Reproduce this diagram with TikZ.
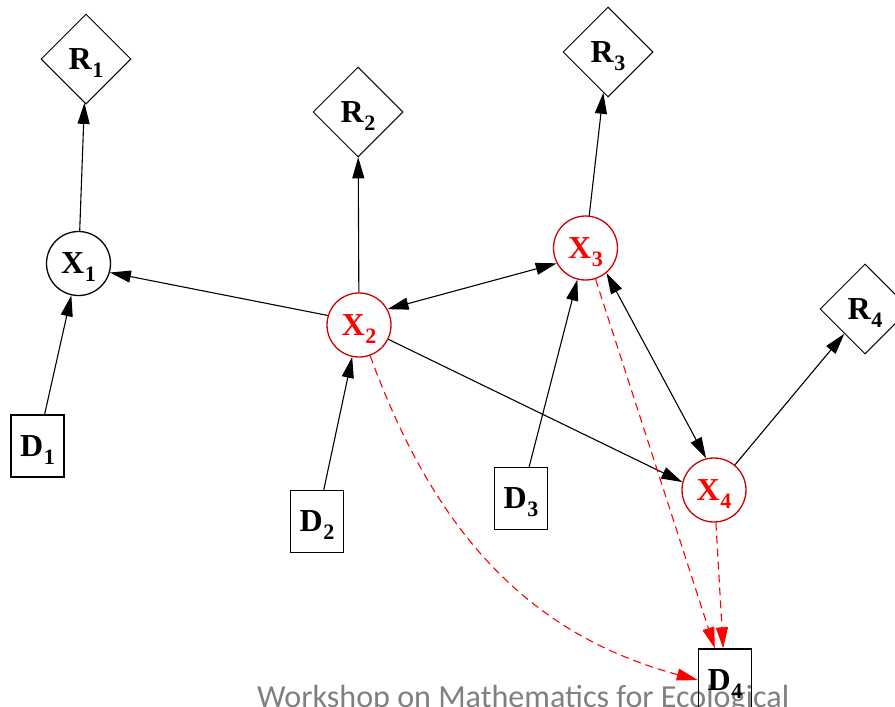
\documentclass[tikz,border=0pt]{standalone}
\usepackage{fontspec}
\setmainfont{Liberation Serif}
\newfontfamily\wmfont{Carlito}
\usetikzlibrary{shapes.geometric,arrows.meta}
\definecolor{xred}{RGB}{204,0,0}
\definecolor{wmgray}{RGB}{128,128,128}
\newcommand{\lab}[2]{\fontsize{32}{32}\selectfont\bfseries #1\kern0.5pt\raisebox{-8pt}[0pt][0pt]{\fontsize{22}{22}\selectfont #2}}
\tikzset{
  xnode/.style={circle, draw, line width=1.3pt, minimum size=64pt, inner sep=0pt},
  rednode/.style={xnode, draw=xred, text=red},
  rnode/.style={diamond, draw, line width=1pt, minimum width=90pt, minimum height=90pt, inner sep=0pt, aspect=1},
  dnode/.style={rectangle, draw, line width=1.4pt, minimum width=53pt, minimum height=62pt, inner sep=0pt},
  arr/.style={-{Triangle[length=21pt,width=12pt]}, line width=1.1pt},
  biarr/.style={{Triangle[length=21pt,width=12pt]}-{Triangle[length=21pt,width=12pt]}, line width=1.1pt},
  redash/.style={arr, red, dash pattern=on 8pt off 5pt}
}
\begin{document}
\begin{tikzpicture}[x=1pt,y=1pt]
\useasboundingbox (0,0) rectangle (895,-707);
\clip (0,0) rectangle (895,-707);
\node[anchor=base west, font=\wmfont\fontsize{32.1}{33}\selectfont, text=wmgray, inner sep=0pt] (wm) at (257,-707.5) {Workshop on Mathematics for Ecological};
\node[rnode] (R1) at (86,-59) {\lab{R}{1}};
\node[rnode] (R2) at (358,-112) {\lab{R}{2}};
\node[rnode] (R3) at (608,-52) {\lab{R}{3}};
\node[rnode] (R4) at (865,-309) {\lab{R}{4}};
\node[xnode] (X1) at (78.5,-263.5) {\lab{X}{1}};
\node[rednode] (X2) at (359,-325) {\lab{X}{2}};
\node[rednode] (X3) at (585.5,-248) {\lab{X}{3}};
\node[rednode] (X4) at (714,-490) {\lab{X}{4}};
\node[dnode] (D1) at (37.5,-446) {\lab{D}{1}};
\node[dnode] (D2) at (317,-521.5) {\lab{D}{2}};
\node[dnode] (D3) at (521,-498.5) {\lab{D}{3}};
\node[dnode] (D4) at (725,-680) {\lab{D}{4}};
\draw[arr] (X1) -- (R1);
\draw[arr] (D1) -- (X1);
\draw[arr] (X2.163) -- (X1.-16);
\draw[arr] (X2) -- (R2);
\draw[arr] (D2) -- (X2);
\draw[biarr] (X2.29) -- (X3.208);
\draw[arr] (X2.-26) -- (X4.166);
\draw[arr] (X3) -- (R3);
\draw[arr] (D3) -- (X3);
\draw[biarr] (X3.-50) -- (X4.104);
\draw[arr] (X4) -- (R4);
\draw[redash] (X3) -- (D4);
\draw[redash] (X4) -- (D4);
\draw[redash] (X2) to[out=-70,in=165] (D4.west);
\end{tikzpicture}
\end{document}
